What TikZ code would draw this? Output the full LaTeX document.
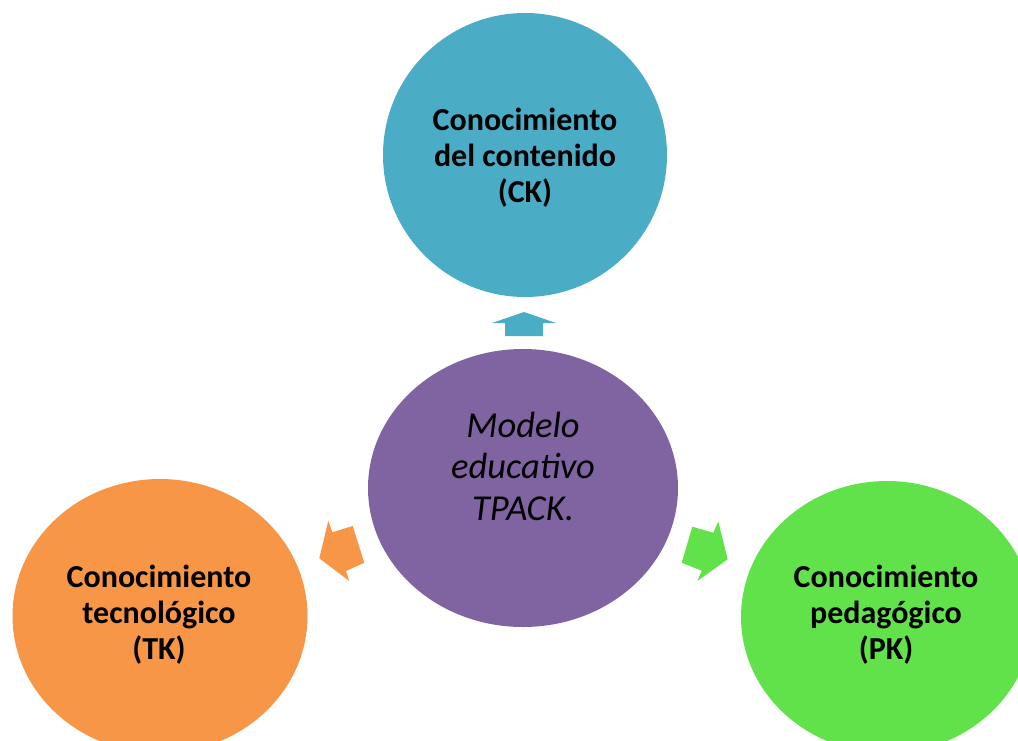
\documentclass[tikz,border=0pt]{standalone}
\usepackage{fontspec}
\setmainfont{Carlito}
\usetikzlibrary{shapes.geometric}
\definecolor{ckblue}{HTML}{4BACC6}
\definecolor{tpurple}{HTML}{8064A2}
\definecolor{tkorange}{HTML}{F79646}
\definecolor{pkgreen}{HTML}{62E24A}
\begin{document}
\begin{tikzpicture}[x=1pt,y=-1pt,
  blob/.style={ellipse, inner sep=0pt, draw=none},
  lbl/.style={align=center, font=\fontsize{32}{36}\selectfont\bfseries, text=black},
  ilbl/.style={align=center, font=\fontsize{36.5}{41.5}\selectfont\itshape, text=black}]
\useasboundingbox (0,0) rectangle (1018,740);
% circles
\node[blob, fill=ckblue, minimum width=284pt, minimum height=284pt] (ck) at (525,155) {};
\node[blob, fill=tpurple, minimum width=310pt, minimum height=278pt] (tpack) at (523,488) {};
\node[blob, fill=tkorange, minimum width=295pt, minimum height=274pt] (tk) at (160,616) {};
\node[blob, fill=pkgreen, minimum width=292pt, minimum height=272pt] (pk) at (887,617) {};
% labels
\node[lbl] (ckt) at (525,157.5) {Conocimiento\\del contenido\\(CK)};
\node[ilbl] (tpackt) at (523,466) {Modelo\\educativo\\TPACK.};
\node[lbl] (tkt) at (159,614.5) {Conocimiento\\tecnológico\\(TK)};
\node[lbl] (pkt) at (886,614.5) {Conocimiento\\pedagógico\\(PK)};
% block arrows
\fill[ckblue] (524,312) -- (556,323) -- (543,323) -- (543,336) -- (505,336) -- (505,323) -- (492,323) -- cycle;
\fill[tkorange] (319.3,558.3) -- (328.3,520.7) -- (332.3,532.3) -- (352.7,526) -- (364.3,562.7) -- (346,571) -- (349.3,581) -- cycle;
\fill[pkgreen] (727.7,559.3) -- (718.3,521.7) -- (713.3,532.7) -- (692.3,526.7) -- (681.7,562.7) -- (701.7,570.7) -- (697.3,581) -- cycle;
\end{tikzpicture}
\end{document}
